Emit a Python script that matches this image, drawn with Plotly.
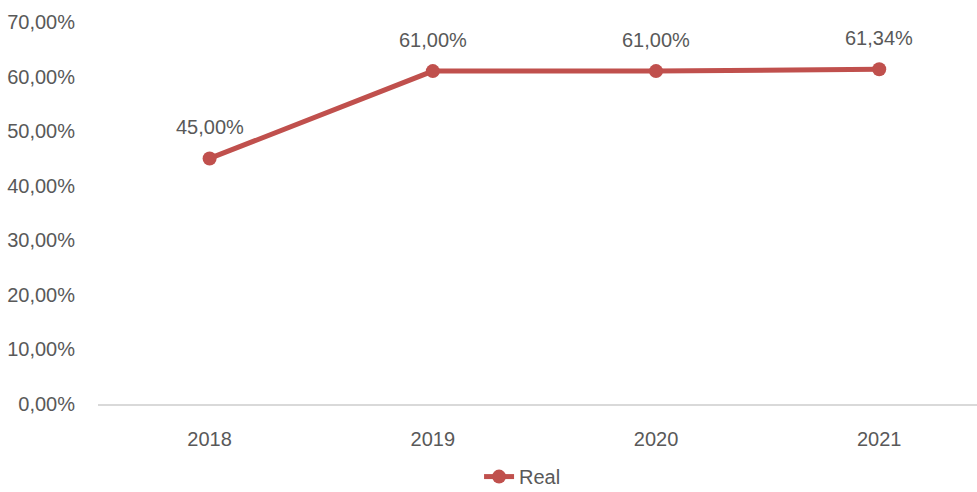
import plotly.graph_objects as go

years = ["2018", "2019", "2020", "2021"]
real = [0.45, 0.61, 0.61, 0.6134]
y_ticks = [0, 0.1, 0.2, 0.3, 0.4, 0.5, 0.6, 0.7]

RED = "#C0504D"
GREY = "#595959"
FONT = "Liberation Sans Narrow, Arial Narrow, Liberation Sans, Arial, sans-serif"
FS = 20

fig = go.Figure()
fig.add_trace(go.Scatter(
    x=years, y=real, name="Real", mode="lines+markers",
    line=dict(color=RED, width=5),
    marker=dict(color=RED, size=14),
))

# value labels above each point (positioned by category index)
for i, v in enumerate(real):
    fig.add_annotation(
        x=i, y=v, xref="x", yref="y",
        text=f"{v*100:.2f}%".replace(".", ","),
        showarrow=False, yanchor="bottom", yshift=18,
        font=dict(family=FONT, size=FS, color=GREY),
    )

fig.update_layout(
    width=977, height=492,
    margin=dict(l=98, r=0, t=22, b=88, autoexpand=False),
    paper_bgcolor="white", plot_bgcolor="white",
    separators=",.",
    font=dict(family=FONT, size=FS, color=GREY),
    showlegend=True,
    legend=dict(orientation="h", x=0.483, xanchor="center", y=-0.19, yanchor="middle",
                font=dict(family=FONT, size=FS, color=GREY)),
    xaxis=dict(
        type="category", range=[-0.5, 3.438], automargin=False,
        showgrid=False, zeroline=False,
        showline=True, linecolor="#D9D9D9", linewidth=1.5,
        ticks="", ticklabelstandoff=16,
    ),
    yaxis=dict(
        range=[0, 0.7], tickvals=y_ticks, tickformat=".2%", automargin=False,
        showgrid=False, zeroline=False, showline=False,
        ticks="", ticklabelstandoff=22,
    ),
)

fig.write_html("out.html")
